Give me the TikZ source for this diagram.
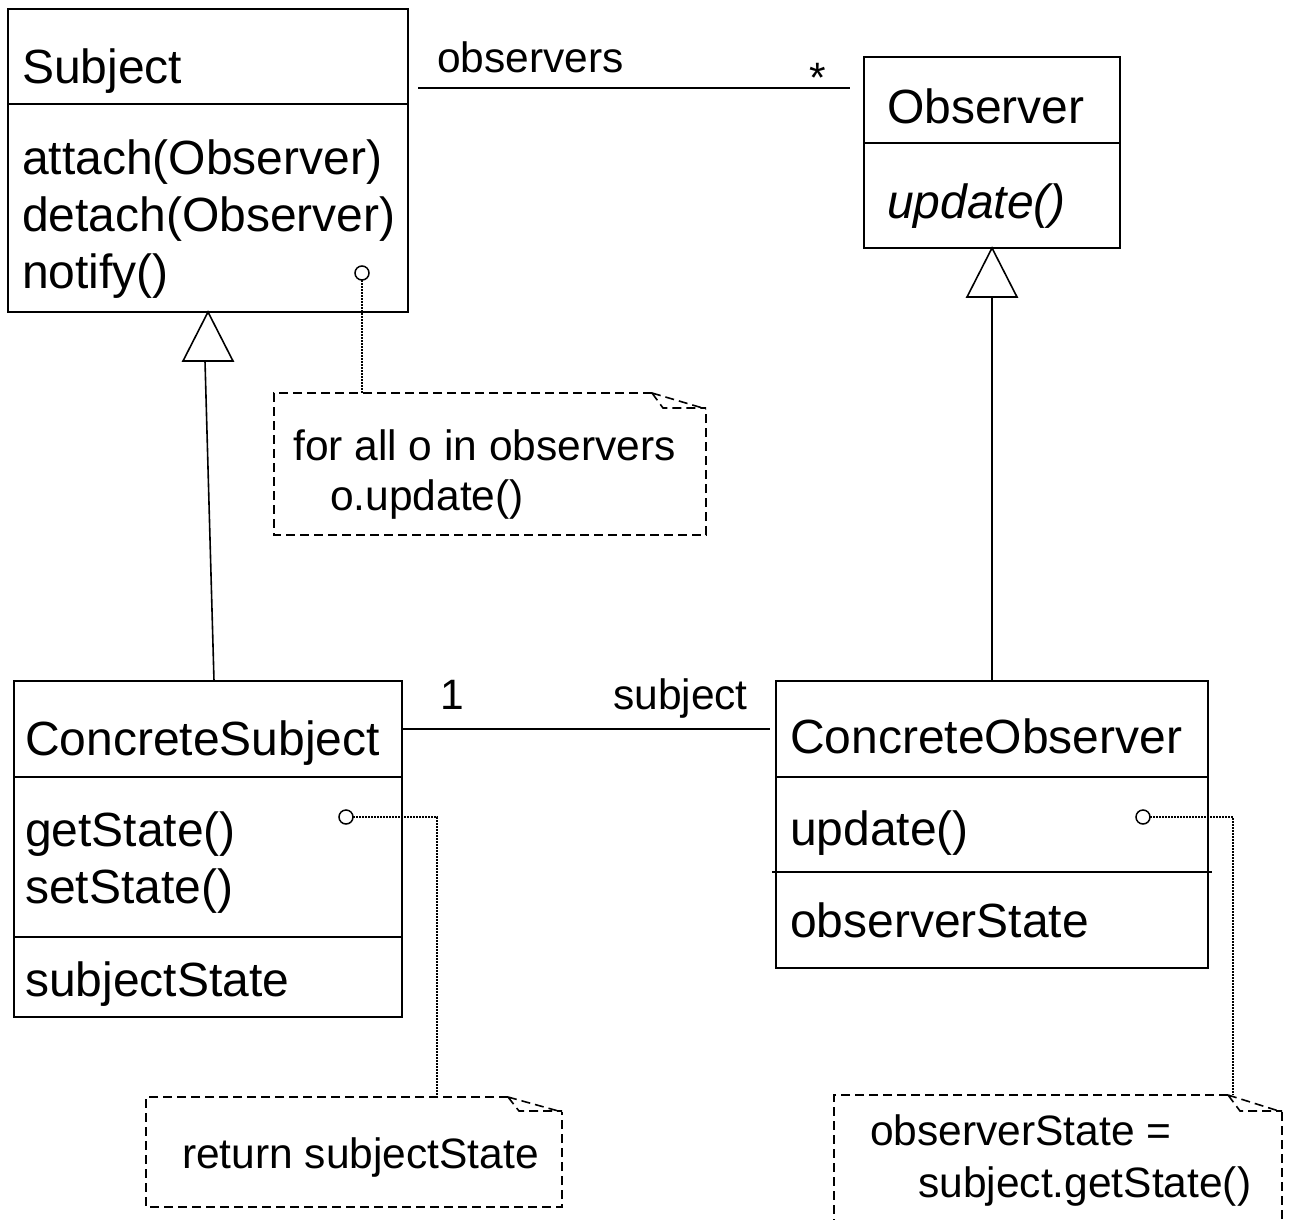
\documentclass[tikz,border=0pt]{standalone}
\usepackage{fontspec}
\setmainfont{Liberation Sans}
\begin{document}
\begin{tikzpicture}[x=1pt,y=-1pt,
  box/.style={draw,line width=2.2pt},
  sep/.style={line width=2pt},
  ctext/.style={inner sep=0pt,anchor=base west,font=\fontsize{48}{57}\selectfont},
  ltext/.style={inner sep=0pt,font=\fontsize{42.5}{50}\selectfont},
  assoc/.style={line width=2pt},
  gen/.style={line width=1.6pt},
  notebox/.style={line width=1.6pt,dash pattern=on 9pt off 5pt},
  anchorline/.style={line width=1.4pt,dash pattern=on 1.6pt off 1.4pt},
  pin/.style={line width=1.5pt}]
\useasboundingbox (0,0) rectangle (1291,1219);
\fill[white] (0,0) rectangle (1291,1219);

% ---- Subject
\draw[box] (8,9) rectangle (408,312);
\draw[sep] (8,104) -- (408,104);
\node[ctext] (subjname) at (22,83) {Subject};
\node[ctext] (attach) at (22,174) {attach(Observer)};
\node[ctext] (detach) at (22,231) {detach(Observer)};
\node[ctext] (notify) at (22,288) {notify()};
\coordinate (subjR) at (408,88);
\coordinate (subjB) at (208,312);

% ---- Observer
\draw[box] (864,57) rectangle (1120,248);
\draw[sep] (864,143) -- (1120,143);
\node[ctext] (obsname) at (887,123) {Observer};
\node[ctext,font=\fontsize{48}{57}\selectfont\itshape] (obsupd) at (887,218) {update()};
\coordinate (obsB) at (992,248);

% ---- ConcreteSubject
\draw[box] (14,681) rectangle (402,1017);
\draw[sep] (14,777) -- (402,777);
\draw[sep] (14,937) -- (402,937);
\node[ctext] (csname) at (25,755) {ConcreteSubject};
\node[ctext] (getst) at (25,846) {getState()};
\node[ctext] (setst) at (25,903) {setState()};
\node[ctext] (sstate) at (25,996) {subjectState};
\coordinate (csT) at (214,681);

% ---- ConcreteObserver
\draw[box] (776,681) rectangle (1208,968);
\draw[sep] (776,777) -- (1208,777);
\draw[sep] (772,872) -- (1212,872);
\node[ctext] (coname) at (790,753) {ConcreteObserver};
\node[ctext] (coupd) at (790,845) {update()};
\node[ctext] (ostate) at (790,937) {observerState};
\coordinate (coT) at (992,681);

% ---- associations
\coordinate (a1) at (418,88);
\coordinate (a2) at (850,88);
\draw[assoc] (a1) -- (a2);
\node[ltext,anchor=base west] (lobs) at (437,72) {observers};
\node[ltext,anchor=base] (lstar) at (818,92) {*};
\coordinate (b1) at (402,729);
\coordinate (b2) at (770,729);
\draw[assoc] (b1) -- (b2);
\node[ltext,anchor=base west] (lone) at (440,709) {1};
\node[ltext,anchor=base east] (lsubj) at (748,709) {subject};

% ---- generalizations
\coordinate (t1l) at (183,361);
\coordinate (t1r) at (233,361);
\coordinate (t1b) at (205,361);
\draw[gen] (subjB) -- (t1r) -- (t1l) -- cycle;
\draw[gen] (t1b) -- (csT);
\coordinate (t2l) at (967,297);
\coordinate (t2r) at (1017,297);
\coordinate (t2b) at (992,297);
\draw[gen] (obsB) -- (t2r) -- (t2l) -- cycle;
\draw[gen] (t2b) -- (coT);

% ---- note 1
\draw[notebox] (652,393) -- (274,393) -- (274,535) -- (706,535) -- (706,409);
\draw[notebox] (652,393) -- (706,409) (652,393) -- (663,408) -- (706,408);
\node[ltext,anchor=base west] (n1a) at (293,460) {for all o in observers};
\node[ltext,anchor=base west] (n1b) at (330,510) {o.update()};
\draw[pin] (362,273) circle (7pt);
\coordinate (p1) at (362,280);
\coordinate (p1e) at (362,393);
\draw[anchorline] (p1) -- (p1e);

% ---- note 2
\draw[notebox] (508,1097) -- (146,1097) -- (146,1207) -- (562,1207) -- (562,1112);
\draw[notebox] (508,1097) -- (562,1112) (508,1097) -- (519,1111) -- (562,1111);
\node[ltext,anchor=base west] (n2) at (182,1168) {return subjectState};
\draw[pin] (346,817) circle (7pt);
\coordinate (p2) at (353,817);
\coordinate (p2m) at (437,817);
\coordinate (p2e) at (437,1097);
\draw[anchorline] (p2) -- (p2m) -- (p2e);

% ---- note 3
\draw[notebox] (1228,1095) -- (834,1095) -- (834,1225);
\draw[notebox] (1282,1112) -- (1282,1225);
\draw[notebox] (1228,1095) -- (1282,1112) (1228,1095) -- (1240,1111) -- (1282,1111);
\node[ltext,anchor=base west] (n3a) at (870,1145) {observerState =};
\node[ltext,anchor=base west] (n3b) at (918,1197) {subject.getState()};
\draw[pin] (1143,817) circle (7pt);
\coordinate (p3) at (1150,817);
\coordinate (p3m) at (1233,817);
\coordinate (p3e) at (1233,1095);
\draw[anchorline] (p3) -- (p3m) -- (p3e);
\end{tikzpicture}
\end{document}
